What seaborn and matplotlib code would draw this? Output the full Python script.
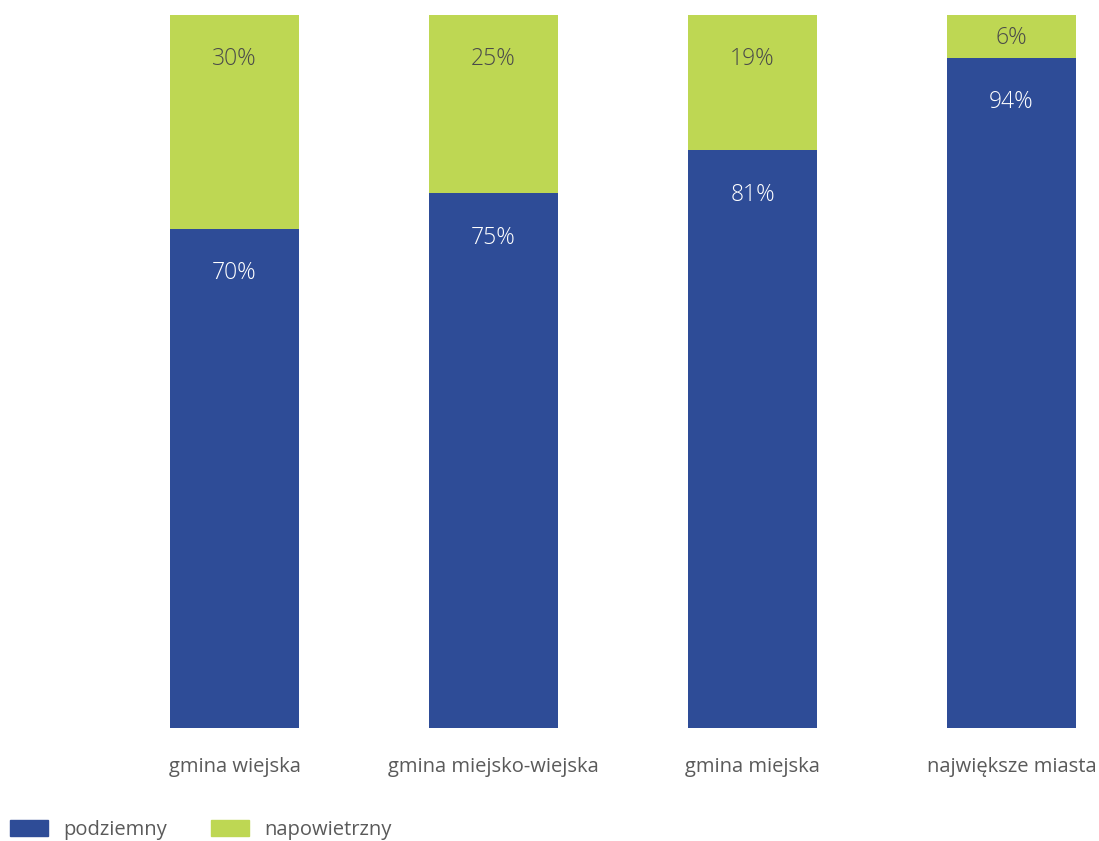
import pandas as pd
import seaborn as sns
import matplotlib.pyplot as plt
from matplotlib.patches import Patch

sns.set_theme(style='white')
plt.rcParams['font.family'] = ['Open Sans', 'DejaVu Sans']

categories = ['gmina wiejska', 'gmina miejsko-wiejska', 'gmina miejska', 'największe miasta']
podziemny = [70, 75, 81, 94]
napowietrzny = [30, 25, 19, 6]

blue = '#2E4C97'
green = '#BED753'

df = pd.DataFrame({'cat': categories, 'pod': podziemny, 'nap': napowietrzny})
df['total'] = df.pod + df.nap

fig = plt.figure(figsize=(10.99, 8.41), dpi=100)
ax = fig.add_axes([0, 113 / 841, 1, 713 / 841])

sns.barplot(data=df, x='cat', y='total', color=green, width=0.498, saturation=1, ax=ax, linewidth=0)
sns.barplot(data=df, x='cat', y='pod', color=blue, width=0.498, saturation=1, ax=ax, linewidth=0)


def label(x, top, h, txt, col):
    # label sits ~42px under the segment top, or in the middle of short segments
    off = min(32, h * 7.13 / 2 * 0.72 + 1)
    ax.annotate(txt, (x, top), xytext=(0, -off), textcoords='offset points',
                ha='center', va='center', fontsize=16.5, color=col, fontweight='light')


for i, r in df.iterrows():
    label(i, r.total, r.nap, f"{r.nap}%", '#4a4a4a')
    label(i, r.pod, r.pod, f"{r.pod}%", 'white')

ax.set_xlim(-234.5 / 259, (1099 - 234.5) / 259)
ax.set_ylim(0, 100)
ax.set_xlabel('')
ax.set_ylabel('')
ax.set_yticks([])
ax.tick_params(axis='x', length=0, pad=21, labelsize=14.5, labelcolor='#5a5a5a')
sns.despine(ax=ax, left=True, bottom=True)

handles = [Patch(color=blue, label='podziemny'), Patch(color=green, label='napowietrzny')]
fig.legend(handles=handles, loc='center left', bbox_to_anchor=(10 / 1099, 1 - 830 / 841), ncol=2,
           frameon=False, borderpad=0, borderaxespad=0,
           fontsize=14.5, labelcolor='#5a5a5a', handlelength=1.89, handleheight=0.8,
           handletextpad=0.75, columnspacing=2.2)

fig.savefig('out.png', dpi=100)
